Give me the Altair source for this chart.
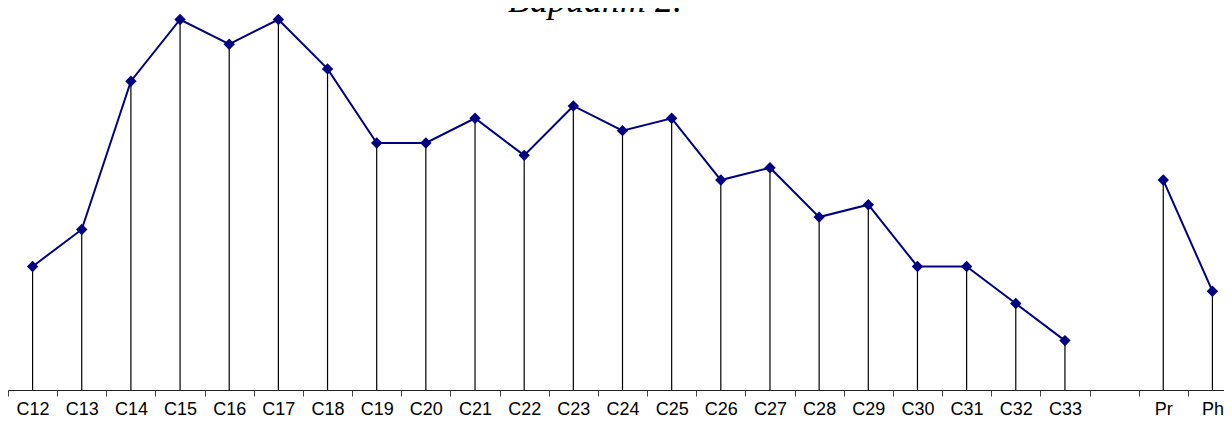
import altair as alt
import pandas as pd

categories = ["C12", "C13", "C14", "C15", "C16", "C17", "C18", "C19", "C20", "C21",
              "C22", "C23", "C24", "C25", "C26", "C27", "C28", "C29", "C30", "C31",
              "C32", "C33", "_", "Pr", "Ph"]
point_cats = ["C12", "C13", "C14", "C15", "C16", "C17", "C18", "C19", "C20", "C21",
              "C22", "C23", "C24", "C25", "C26", "C27", "C28", "C29", "C30", "C31",
              "C32", "C33", "Pr", "Ph"]
values = [10, 13, 25, 30, 28, 30, 26, 20, 20, 22, 19, 23, 21, 22, 17, 18, 14, 15,
          10, 10, 7, 4, 17, 8]
segments = ["a"] * 22 + ["b"] * 2
title_text = "Вариант 2."

df = pd.DataFrame({"cat": point_cats, "v": values, "seg": segments})

xenc = alt.X(
    "cat:N",
    sort=categories,
    scale=alt.Scale(domain=categories, range=[0, 1229], paddingInner=0, paddingOuter=0),
    axis=alt.Axis(
        title=None,
        labelAngle=0,
        tickBand="extent",
        labelExpr="datum.value == '_' ? '' : datum.value",
        labelFont="Liberation Sans",
        labelFontSize=18,
        labelColor="black",
        labelPadding=4,
        tickSize=6,
        tickColor="#444444",
        domainColor="#222222",
        domainWidth=1,
        labelOverlap=False,
        grid=False,
    ),
)
yenc = alt.Y("v:Q", scale=alt.Scale(domain=[0, 30.93], nice=False, zero=True), axis=None)

base = alt.Chart(df)

rules = base.mark_rule(color="black", strokeWidth=1.2).encode(
    x=xenc, y=yenc, y2=alt.datum(0)
)
line = base.mark_line(color="#000080", strokeWidth=2).encode(
    x=xenc, y=yenc, detail="seg:N"
)
points = base.mark_point(shape="diamond", filled=True, color="#000080", size=130, opacity=1).encode(
    x=xenc, y=yenc
)
title = alt.Chart(pd.DataFrame({"t": [title_text]})).mark_text(
    font="Liberation Serif", fontStyle="italic", fontSize=36, color="black",
    align="center", baseline="alphabetic"
).encode(text="t:N", x=alt.value(587), y=alt.value(4))

chart = alt.layer(rules, line, points, title).properties(
    width=1216,
    height=382,
    autosize=alt.AutoSizeParams(type="none"),
    padding={"left": 0, "top": 0, "right": 0, "bottom": 28},
).configure_view(stroke=None)

chart.save("out.html", embed_options={"renderer": "svg", "actions": False})
